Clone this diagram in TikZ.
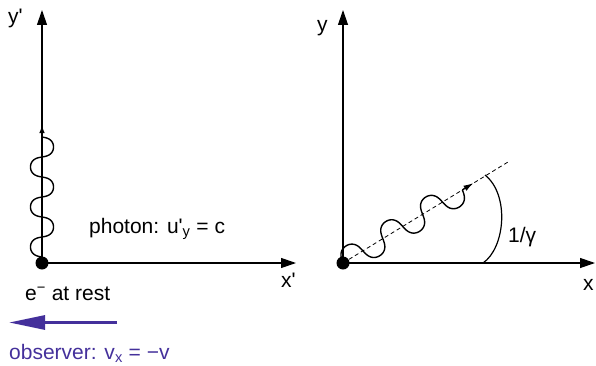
\documentclass[tikz,border=0pt]{standalone}
\usepackage{fontspec}
\newfontfamily\hel{Liberation Sans}
\usetikzlibrary{arrows.meta}
\definecolor{obsblue}{RGB}{68,48,155}
\begin{document}
\begin{tikzpicture}[x=1pt,y=1pt,
  axis/.style={line width=1.2pt,-{Triangle[length=15pt,width=10pt]}},
  lbl/.style={inner sep=0pt,anchor=base west,font=\hel\fontsize{21}{25}\selectfont},
  wave/.style={line width=1.4pt},
  wavetip/.style={line width=1.3pt,-{Latex[length=8pt,width=5.5pt]}},
  wavetipb/.style={line width=1.3pt,-{Latex[length=10pt,width=6pt]}},
  dotc/.style={circle,fill=black,inner sep=0pt,minimum size=13pt},
  dashline/.style={line width=0.8pt,dash pattern=on 4pt off 3pt}]
\useasboundingbox (0,0) rectangle (596,365);
% ---------- left frame ----------
\coordinate (o1) at (42,102);
\coordinate (y1) at (42,355);
\coordinate (x1) at (296,102);
\draw[axis] (o1) -- (y1);
\draw[axis] (o1) -- (x1);
\begin{scope}[shift={(o1)},rotate=90]
  \draw[wave] plot[domain=0:6*pi,samples=240,variable=\t,smooth]
    ({6+120*\t/(6*pi)-2.2*sin(2*\t r)},{11.5*sin(\t r)});
  \coordinate (w1a) at (126,0);
  \coordinate (w1b) at (138,0);
  \draw[wavetip] (w1a) -- (w1b);
\end{scope}
\node[dotc] (d1) at (o1) {};
\node[lbl] (ly1) at (8,341) {y'};
\node[lbl] (lx1) at (281,78) {x'};
\node[lbl] (lph) at (89,132) {photon: u'\textsubscript{y} = c};
\node[lbl] (lrest) at (25,65) {e\textsuperscript{−} at rest};
\coordinate (b1) at (117,42.5);
\coordinate (b2) at (9,42.5);
\draw[obsblue,line width=3pt,-{Triangle[length=36pt,width=14pt]}] (b1) -- (b2);
\node[lbl,text=obsblue] (lobs) at (9,5.5) {observer: v\textsubscript{x} = −v};
% ---------- right frame ----------
\coordinate (o2) at (343,102);
\coordinate (y2) at (343,355);
\coordinate (x2) at (595,102);
\coordinate (dend) at (508,203);
\draw[axis] (o2) -- (y2);
\draw[axis] (o2) -- (x2);
\draw[dashline] (o2) -- (dend);
\begin{scope}[shift={(o2)},rotate=31.5]
  \draw[wave] plot[domain=0:6*pi,samples=240,variable=\t,smooth]
    ({140*\t/(6*pi)-2.5*sin(2*\t r)},{13*sin(\t r)});
  \coordinate (w2a) at (140,0);
  \coordinate (w2b) at (153,0);
  \draw[wavetipb] (w2a) -- (w2b);
\end{scope}
\coordinate (a1) at (483,102);
\coordinate (a2) at (485,190);
\draw[line width=1.2pt] (a1) .. controls (505,117) and (510,170) .. (a2);
\node[dotc] (d2) at (o2) {};
\node[lbl] (ly2) at (317,333) {y};
\node[lbl] (lx2) at (583,75) {x};
\node[lbl] (lg) at (508,123) {1/γ};
\end{tikzpicture}
\end{document}
